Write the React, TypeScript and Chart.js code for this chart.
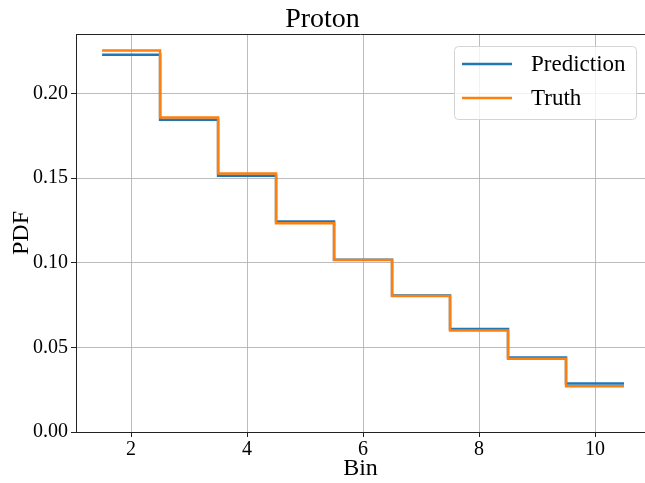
import React, { useEffect, useRef } from 'react';
import { Chart, registerables } from 'chart.js';

Chart.register(...registerables);

const bins = [2, 3, 4, 5, 6, 7, 8, 9, 10];
const prediction = [0.2229, 0.1844, 0.1513, 0.1243, 0.1018, 0.0807, 0.0609, 0.044, 0.0286];
const truth = [0.2253, 0.1858, 0.1527, 0.1233, 0.1016, 0.0803, 0.0599, 0.0432, 0.027];
const xTicks = [2, 4, 6, 8, 10];
const yTicks = [0, 0.05, 0.1, 0.15, 0.2];
const seriesNames = ['Prediction', 'Truth'];
const seriesColors = ['#1f77b4', '#ff7f0e'];
const titleText = 'Proton';
const xLabel = 'Bin';
const yLabel = 'PDF';

const FONT = '"Liberation Serif", "DejaVu Serif", serif';

function stepPoints(values: number[]) {
  const pts: { x: number; y: number }[] = [{ x: bins[0] - 0.5, y: values[0] }];
  bins.forEach((b, i) => pts.push({ x: b, y: values[i] }));
  pts.push({ x: bins[bins.length - 1] + 0.5, y: values[values.length - 1] });
  return pts;
}

const framePlugin = {
  id: 'frameAndLegend',
  afterDraw(chart: any) {
    const ctx = chart.ctx as CanvasRenderingContext2D;
    const { top, left, right } = chart.chartArea;
    ctx.save();
    // top spine
    ctx.strokeStyle = '#222';
    ctx.lineWidth = 1;
    ctx.beginPath();
    ctx.moveTo(left, Math.round(top) + 0.5);
    ctx.lineTo(right, Math.round(top) + 0.5);
    ctx.stroke();

    // legend box
    const x0 = right - 191;
    const y0 = top + 12;
    const w = 182;
    const h = 73;
    ctx.beginPath();
    (ctx as any).roundRect(x0 + 0.5, y0 + 0.5, w, h, 4);
    ctx.fillStyle = 'rgba(255,255,255,0.8)';
    ctx.fill();
    ctx.strokeStyle = '#d4d4d4';
    ctx.stroke();

    seriesNames.forEach((name, i) => {
      const y = y0 + 18 + i * 34;
      ctx.strokeStyle = seriesColors[i];
      ctx.lineWidth = 2.5;
      ctx.beginPath();
      ctx.moveTo(x0 + 8, y);
      ctx.lineTo(x0 + 58, y);
      ctx.stroke();
      ctx.fillStyle = '#000';
      ctx.font = `23px ${FONT}`;
      ctx.textBaseline = 'middle';
      ctx.textAlign = 'left';
      ctx.fillText(name, x0 + 77, y + 1);
    });
    ctx.restore();
  },
};

export default function App() {
  const ref = useRef<HTMLCanvasElement | null>(null);

  useEffect(() => {
    if (!ref.current) return;
    const gridColor = 'rgba(176,176,176,0.85)';
    const chart = new Chart(ref.current, {
      type: 'line',
      data: {
        datasets: [
          {
            label: seriesNames[0],
            data: stepPoints(prediction),
            borderColor: seriesColors[0],
            borderWidth: 2.5,
            stepped: 'middle',
            pointRadius: 0,
            fill: false,
            order: 2,
          },
          {
            label: seriesNames[1],
            data: stepPoints(truth),
            borderColor: seriesColors[1],
            borderWidth: 2.5,
            stepped: 'middle',
            pointRadius: 0,
            fill: false,
            order: 1,
          },
        ],
      },
      options: {
        animation: false,
        responsive: false,
        devicePixelRatio: 1,
        layout: { padding: 0 },
        plugins: {
          legend: { display: false },
          tooltip: { enabled: false },
          title: {
            display: true,
            text: titleText,
            color: '#000',
            font: { family: FONT, size: 28, weight: 'normal', lineHeight: 1.0 },
            padding: { top: 6, bottom: 0 },
          },
        },
        scales: {
          x: {
            type: 'linear',
            min: 1.05,
            max: 10.862,
            afterBuildTicks: (s: any) => {
              s.ticks = xTicks.map((v) => ({ value: v }));
            },
            afterFit: (s: any) => {
              s.height = 51;
            },
            grid: { color: gridColor, lineWidth: 1, tickLength: 5, tickColor: '#222', tickWidth: 1 },
            border: { color: '#222', width: 1 },
            ticks: {
              color: '#000',
              font: { family: FONT, size: 20 },
              padding: 1,
              maxRotation: 0,
              autoSkip: false,
              callback: (v: any) => String(v),
            },
            title: {
              display: true,
              text: xLabel,
              color: '#000',
              font: { family: FONT, size: 24, lineHeight: 1.1 },
              padding: { top: 0, bottom: 1 },
            },
          },
          y: {
            type: 'linear',
            min: 0,
            max: 0.2351,
            afterBuildTicks: (s: any) => {
              s.ticks = yTicks.map((v) => ({ value: v }));
            },
            afterFit: (s: any) => {
              s.width = 76;
            },
            grid: { color: gridColor, lineWidth: 1, tickLength: 5, tickColor: '#222', tickWidth: 1 },
            border: { color: '#222', width: 1 },
            ticks: {
              color: '#000',
              font: { family: FONT, size: 20 },
              padding: 3,
              autoSkip: false,
              callback: (v: any) => Number(v).toFixed(2),
            },
            title: {
              display: true,
              text: yLabel,
              color: '#000',
              font: { family: FONT, size: 24 },
              padding: { top: 7, bottom: 0 },
            },
          },
        },
      },
      plugins: [framePlugin],
    } as any);
    return () => chart.destroy();
  }, []);

  return (
    <div style={{ position: 'absolute', left: 0, top: 0, width: 645, height: 483, background: '#fff' }}>
      <canvas ref={ref} width={645} height={483} style={{ width: 645, height: 483, display: 'block' }} />
    </div>
  );
}
